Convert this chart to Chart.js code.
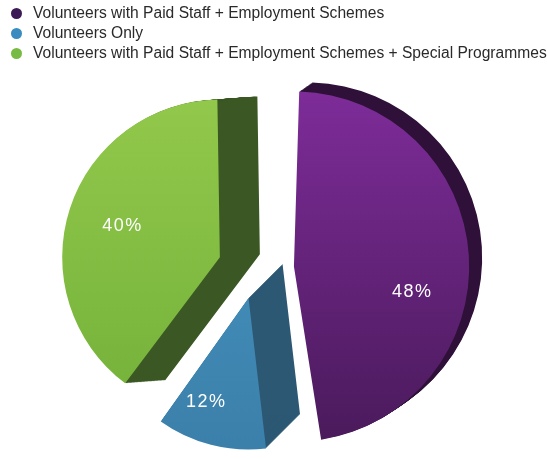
<!DOCTYPE html>
<html lang="en">
<head>
  <meta charset="UTF-8" />
  <title>Volunteer Staffing Mix</title>
  <script src="https://cdn.jsdelivr.net/npm/chart.js@4.4.0/dist/chart.umd.min.js"></script>
  <style>
    body {
      margin: 0;
      background: #fff;
      font-family: 'Liberation Sans', Arial, sans-serif;
    }
    .wrap {
      position: relative;
      width: 548px;
      height: 459px;
      overflow: hidden;
    }
    canvas {
      position: absolute;
      left: 0;
      top: 0;
    }
    /* legend sits above the pie, one entry per row */
    .legend {
      position: absolute;
      left: 0;
      top: 3px;
      margin: 0;
      padding: 0;
      list-style: none;
      z-index: 2;
    }
    .legend li {
      position: relative;
      height: 20px;
      line-height: 20px;
      padding-left: 33px;
      font-size: 15.6px;
      color: #2a2a2a;
      white-space: nowrap;
    }
    .legend li span {
      position: absolute;
      left: 11px;
      top: 4.5px;
      width: 11px;
      height: 11px;
      border-radius: 50%;
    }
  </style>
</head>
<body>
  <div class="wrap">
    <ul class="legend" id="legend"></ul>
    <canvas id="pieChart" width="548" height="459"></canvas>
  </div>

  <script>
    // Data
    const categories = [
      'Volunteers with Paid Staff + Employment Schemes',
      'Volunteers Only',
      'Volunteers with Paid Staff + Employment Schemes + Special Programmes'
    ];
    const shares = [48, 12, 40];

    // Colours
    const dotColours = ['#3b1a55', '#3a8bbf', '#78bb44'];
    const faceColours = [['#7e2c99', '#4a1a5b'], ['#4797c4', '#3a7ea8'], ['#94ca4d', '#72b038']];
    const sideColours = ['#2e1038', '#2c5874', '#3b5824'];

    // Legend
    const legend = document.getElementById('legend');
    categories.forEach((name, i) => {
      const li = document.createElement('li');
      const dot = document.createElement('span');
      dot.style.background = dotColours[i];
      li.appendChild(dot);
      li.appendChild(document.createTextNode(name));
      legend.appendChild(li);
    });

    // Dark side walls: each slice is redrawn in its wall colour, stepped along
    // a small vector, before the real faces go on top
    const extrude = {
      id: 'extrude',
      beforeDatasetsDraw(chart, args, opts) {
        const ctx = chart.ctx;
        chart.getDatasetMeta(0).data.forEach((arc, i) => {
          const [dx, dy] = opts.shift[i];
          const steps = Math.ceil(Math.max(Math.abs(dx), Math.abs(dy)));
          const saved = arc.options;
          arc.options = Object.assign({}, saved, { backgroundColor: opts.colours[i], borderWidth: 0 });
          for (let s = 1; s <= steps; s++) {
            const t = s / steps;
            ctx.save();
            ctx.translate(dx * t, dy * t);
            arc.draw(ctx);
            ctx.restore();
          }
          arc.options = saved;
        });
      }
    };

    // Percentage labels on the slice faces
    const sliceLabels = {
      id: 'sliceLabels',
      afterDatasetsDraw(chart, args, opts) {
        const ctx = chart.ctx;
        const total = shares.reduce((s, v) => s + v, 0);
        ctx.save();
        ctx.font = '18px "Liberation Sans", Arial, sans-serif';
        ctx.letterSpacing = '1.5px';
        ctx.fillStyle = '#fff';
        ctx.textAlign = 'center';
        ctx.textBaseline = 'middle';
        chart.getDatasetMeta(0).data.forEach((arc, i) => {
          const p = arc.getProps(['x', 'y', 'startAngle', 'endAngle', 'outerRadius', 'circumference'], true);
          const mid = (p.startAngle + p.endAngle) / 2;
          // exploded slices are moved by offset / 4 and grown a little (see ArcElement.draw)
          const shift = (arc.options.offset || 0) / 4;
          const grow = shift * (1 - Math.sin(Math.min(Math.PI, p.circumference)));
          const tipX = p.x + Math.cos(mid) * shift;
          const tipY = p.y + Math.sin(mid) * shift;
          const ang = p.startAngle + (p.endAngle - p.startAngle) * opts.along[i];
          const r = (p.outerRadius + grow) * opts.out[i];
          const pct = Math.round(shares[i] / total * 100) + '%';
          ctx.fillText(pct, tipX + Math.cos(ang) * r, tipY + Math.sin(ang) * r);
        });
        ctx.restore();
      }
    };

    function faceFill(context) {
      const chart = context.chart;
      if (!chart.chartArea) return faceColours[context.dataIndex][0];
      const g = chart.ctx.createLinearGradient(0, 90, 0, 445);
      g.addColorStop(0, faceColours[context.dataIndex][0]);
      g.addColorStop(1, faceColours[context.dataIndex][1]);
      return g;
    }

    window.pieChart = new Chart(document.getElementById('pieChart'), {
      type: 'pie',
      data: {
        labels: categories,
        datasets: [{
          data: shares,
          backgroundColor: faceFill,
          borderWidth: 0,
          offset: [152, 120, 152],
          radius: 142,
          clip: false
        }]
      },
      options: {
        responsive: false,
        animation: false,
        events: [],
        layout: { padding: { top: 79, right: 36, left: 0, bottom: 0 } },
        plugins: {
          legend: { display: false },
          tooltip: { enabled: false },
          extrude: { shift: [[13, -9], [34, -34], [40, -3]], colours: sideColours },
          sliceLabels: { along: [0.59, 0.68, 0.5], out: [0.69, 0.74, 0.65] }
        }
      },
      plugins: [extrude, sliceLabels]
    });
  </script>
</body>
</html>
